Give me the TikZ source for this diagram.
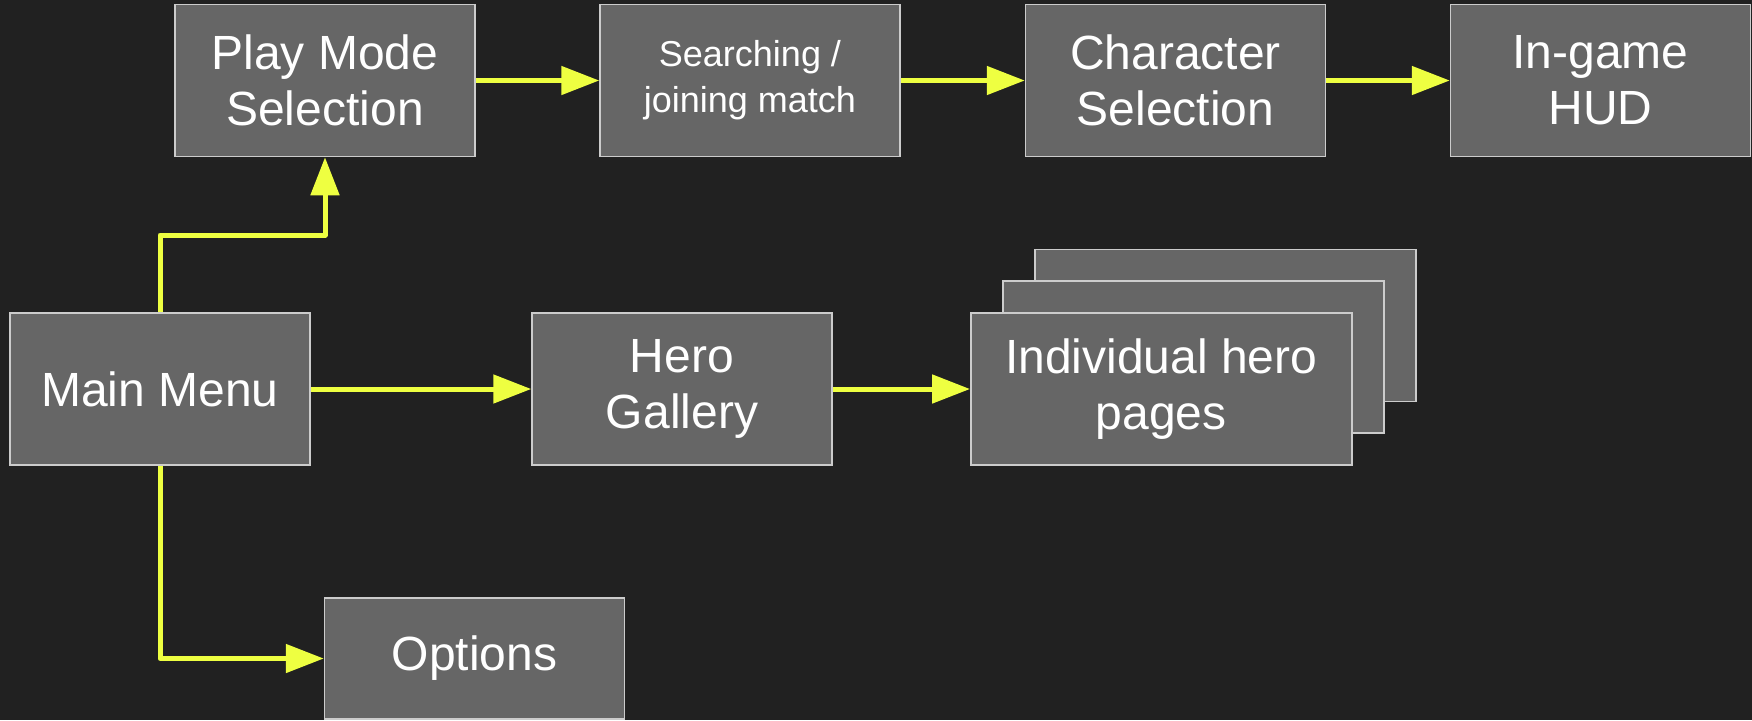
\documentclass[tikz,border=0pt]{standalone}
\usepackage{fontspec}
\setmainfont{Liberation Sans}
\usetikzlibrary{arrows.meta}
\definecolor{bgc}{HTML}{212121}
\definecolor{boxfill}{HTML}{666666}
\definecolor{boxline}{HTML}{CCCCCC}
\definecolor{flow}{HTML}{EEFF41}
\tikzset{
  screen/.style={draw=boxline, line width=0.75pt, fill=boxfill, text=white,
    minimum width=150pt, minimum height=76pt, inner sep=0pt, align=center,
    font=\fontsize{24}{29}\selectfont},
  smalltext/.style={font=\fontsize{18}{23}\selectfont},
  flowarrow/.style={draw=flow, line width=2.5pt, line join=round,
    -{Triangle[length=19pt,width=14pt]}}
}
\begin{document}
\begin{tikzpicture}[x=0.5pt,y=-0.5pt]
\fill[bgc] (0,0) rectangle (1752,720);
\useasboundingbox (0,0) rectangle (1752,720);
% top row
\node[screen] (pm) at (325,80.5) {\raisebox{-1pt}{Play Mode}\\Selection};
\node[screen, smalltext] (search) at (750,80.5) {\raisebox{-2pt}{Searching /}\\\raisebox{-2pt}{joining match}};
\node[screen] (chars) at (1175.5,80.5) {\raisebox{-1pt}{Character}\\Selection};
\node[screen] (hud) at (1600.5,80.5) {\raisebox{-1pt}{In-game}\\HUD};
% middle row
\node[screen] (main) at (160,389) {\raisebox{-1pt}{Main Menu}};
\node[screen] (gallery) at (682,389) {\raisebox{-1pt}{Hero}\\Gallery};
\node[screen, minimum width=190.5pt] (hp3) at (1225.3,325.5) {};
\node[screen, minimum width=190.5pt] (hp2) at (1193.3,357) {};
\node[screen, minimum width=190.5pt] (heroes) at (1161.3,389) {\raisebox{-1pt}{Individual hero}\\pages};
% bottom
\node[screen, minimum height=60.5pt] (options) at (474.5,658.5) {\raisebox{-2pt}{Options}};
% connectors
\coordinate (bend) at (0,235);
\draw[flowarrow] (pm.east) -- (search.west);
\draw[flowarrow] (search.east) -- (chars.west);
\draw[flowarrow] (chars.east) -- (hud.west);
\draw[flowarrow] (main.north) -- (main.north |- bend) -| (pm.south);
\draw[flowarrow] (main.east) -- (gallery.west);
\draw[flowarrow] (gallery.east) -- (heroes.west);
\draw[flowarrow] (main.south) |- (options.west);
\end{tikzpicture}
\end{document}
